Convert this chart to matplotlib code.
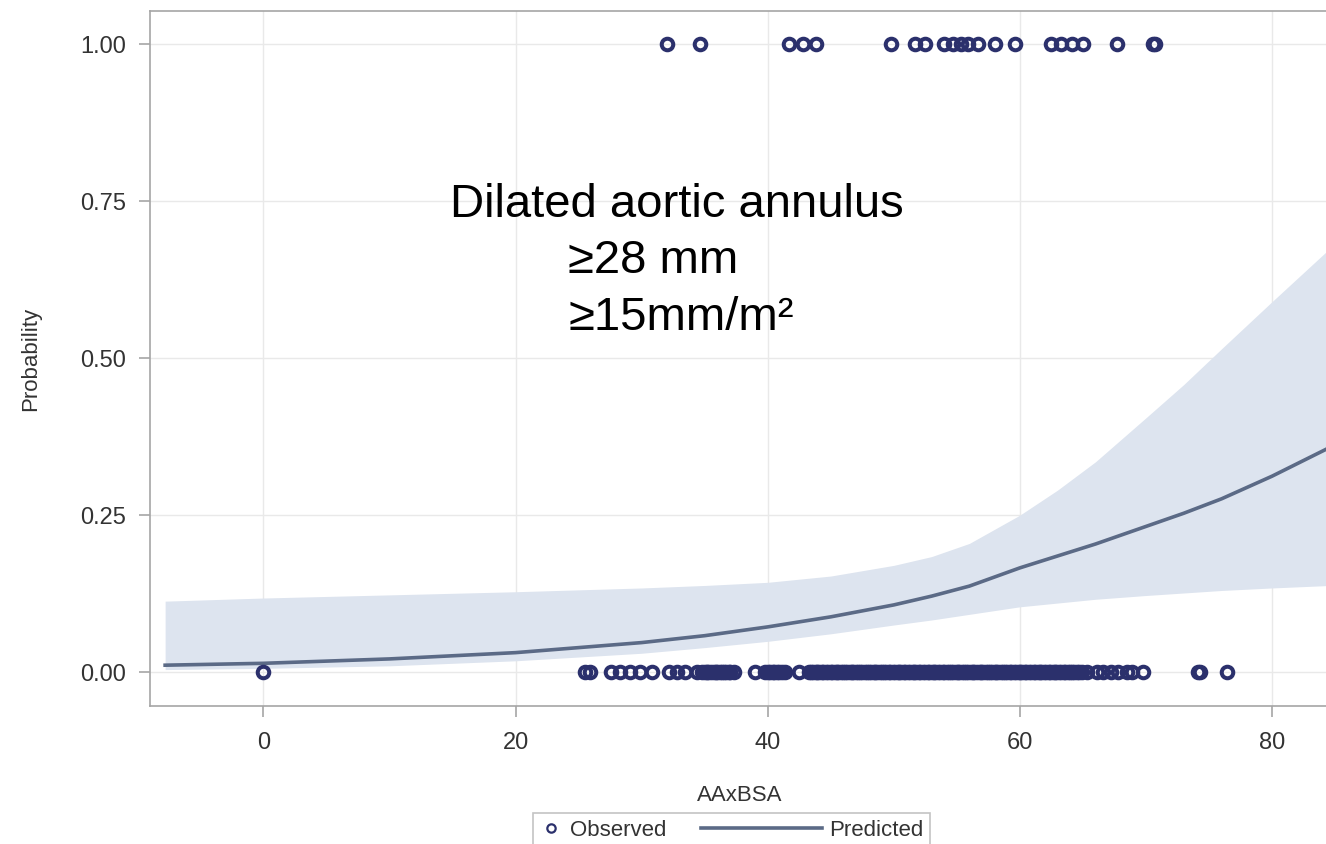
import matplotlib
matplotlib.use("Agg")
import matplotlib.pyplot as plt
from matplotlib.lines import Line2D
from matplotlib.legend_handler import HandlerLine2D
import numpy as np

plt.rcParams["font.family"] = ["Liberation Sans", "DejaVu Sans"]

# Datos: curva predicha y banda de confianza
curve_x = [-7.8, 0, 10, 20, 30, 35, 40, 45, 50, 53, 56, 60, 63, 66, 70, 73, 76, 80, 84.6]
pred = [0.011, 0.014, 0.021, 0.031, 0.047, 0.058, 0.072, 0.088, 0.107, 0.121,
        0.137, 0.166, 0.185, 0.204, 0.232, 0.253, 0.276, 0.312, 0.358]
upper = [0.113, 0.118, 0.123, 0.128, 0.134, 0.138, 0.143, 0.153, 0.170, 0.184,
         0.205, 0.250, 0.290, 0.335, 0.405, 0.458, 0.515, 0.590, 0.675]
lower = [0.004, 0.006, 0.010, 0.018, 0.030, 0.039, 0.049, 0.061, 0.075, 0.083,
         0.092, 0.104, 0.110, 0.116, 0.122, 0.126, 0.130, 0.134, 0.138]

# Observados con evento (1)
obs_one = [32.0, 34.6, 41.7, 42.8, 43.8, 49.8, 51.7, 52.5, 54.0, 54.7, 55.3,
           55.9, 56.7, 58.0, 59.6, 62.5, 63.3, 64.1, 65.0, 67.7, 70.6, 70.7]

# Observados sin evento (0)
obs_zero = [0.0, 25.5, 25.9, 27.6, 28.3, 29.1, 29.9, 30.8, 32.2, 32.8, 33.4,
            34.4, 34.8, 35.0, 35.2, 35.3, 35.5, 35.7, 35.9, 36.0, 36.2, 36.4,
            36.5, 36.7, 36.9, 37.0, 37.3,
            39.0, 39.8, 40.0, 40.2, 40.4, 40.5, 40.7, 40.9, 41.1, 41.4, 42.5,
            43.3, 43.4, 43.6, 43.8, 43.9, 44.1, 44.3, 44.4, 44.6, 44.8, 45.0,
            45.1, 45.3, 45.5, 45.6, 45.8, 46.0, 46.1, 46.3, 46.5, 46.7, 46.8,
            47.0, 47.2, 47.3, 47.5, 47.7, 47.9, 48.0, 48.2, 48.4, 48.5, 48.7,
            48.9, 49.1, 49.2, 49.4, 49.6, 49.7, 49.9, 50.1, 50.3, 50.4, 50.6,
            50.8, 50.9, 51.1, 51.3, 51.5, 51.6, 51.8, 52.0, 52.1, 52.3, 52.5,
            52.7, 52.8, 53.0, 53.2, 53.3, 53.5, 53.7, 53.9, 54.0, 54.2, 54.4,
            54.5, 54.7, 54.9, 55.1, 55.2, 55.4, 55.6, 55.7, 55.9, 56.1, 56.3,
            56.4, 56.6, 56.8, 56.9, 57.1, 57.3, 57.5, 57.6, 57.8, 58.0, 58.1,
            58.3, 58.5, 58.7, 58.8, 59.0, 59.2, 59.3, 59.5, 59.7, 59.9, 60.0,
            60.2, 60.4, 60.5, 60.7, 60.9, 61.1, 61.2, 61.4, 61.6, 61.7, 61.9,
            62.1, 62.3, 62.4, 62.6, 62.8, 62.9, 63.1, 63.3, 63.5, 63.6, 63.8,
            64.0, 64.1, 64.3, 64.5, 64.7, 64.9, 65.3, 66.1, 66.6, 67.2, 67.8,
            68.5, 68.9, 69.8, 74.1, 74.3, 76.4]

xticks = [0, 20, 40, 60, 80]
yticks = [0.0, 0.25, 0.50, 0.75, 1.00]

navy = "#2b306c"
linecol = "#5b6a86"
txtcol = "#333333"

fig = plt.figure(figsize=(13.26, 8.44), dpi=100)
ax = fig.add_axes([150 / 1326, 138 / 844, 1 - 150 / 1326 + 0.003, 695 / 844])

ax.fill_between(curve_x, lower, upper, color="#dde4ef", linewidth=0, zorder=1)
ax.plot(curve_x, pred, color=linecol, linewidth=2.6, zorder=2)
ax.plot(obs_one, [1.0] * len(obs_one), linestyle="", marker="o", markersize=8.3,
        markerfacecolor="none", markeredgecolor=navy, markeredgewidth=2.9, zorder=3)
ax.plot(obs_zero, [0.0] * len(obs_zero), linestyle="", marker="o", markersize=8.3,
        markerfacecolor="none", markeredgecolor=navy, markeredgewidth=2.9, zorder=3)

ax.set_xlim(-9.0, 84.6)
ax.set_ylim(-0.054, 1.053)
ax.set_xticks(xticks)
ax.set_yticks(yticks)
ax.set_yticklabels(["%.2f" % v for v in yticks])
ax.grid(True, color="#e9e9e9", linewidth=1)
ax.set_axisbelow(True)
for s in ["left", "bottom", "top"]:
    ax.spines[s].set_color("#a5a5a5")
    ax.spines[s].set_linewidth(1.2)
ax.spines["right"].set_visible(False)
ax.tick_params(axis="both", colors="#a5a5a5", labelcolor=txtcol, length=8,
               width=1.2, labelsize=17)
ax.tick_params(axis="x", pad=11)
ax.tick_params(axis="y", pad=9)

ax.set_xlabel("AAxBSA", fontsize=16, color=txtcol, labelpad=22)
ax.set_ylabel("Probability", fontsize=16, color=txtcol, labelpad=28)

# Anotacion
fig.text(677 / 1326, 1 - 205 / 844, "Dilated aortic annulus", fontsize=34,
         ha="center", va="center")
fig.text(568 / 1326, 1 - 261 / 844, "≥28 mm", fontsize=34, ha="left", va="center")
fig.text(568 / 1326, 1 - 318 / 844, "≥15mm/m²", fontsize=34, ha="left", va="center")


# linea de leyenda alargada hacia la izquierda
class LongLine(HandlerLine2D):
    def __init__(self, ext, **kw):
        super().__init__(**kw)
        self.ext = ext

    def create_artists(self, legend, orig_handle, xdescent, ydescent, width,
                       height, fontsize, trans):
        arts = super().create_artists(legend, orig_handle, xdescent, ydescent,
                                      width, height, fontsize, trans)
        for a in arts:
            xd = np.array(a.get_xdata(), dtype=float)
            if len(xd) >= 2:
                xd[0] -= self.ext
                a.set_xdata(xd)
        return arts


h_obs = Line2D([], [], linestyle="", marker="o", markersize=6, markerfacecolor="none",
               markeredgecolor=navy, markeredgewidth=1.6)
h_pred = Line2D([], [], color=linecol, linewidth=2.6)
leg = fig.legend([h_obs, h_pred], ["Observed", "Predicted"], loc="upper left",
                 bbox_to_anchor=(533 / 1326, 1 - 813 / 844), borderaxespad=0,
                 ncol=2, fontsize=16, frameon=True, fancybox=False,
                 handlelength=1.0, handletextpad=0.35, columnspacing=6.0,
                 borderpad=0.3, handler_map={h_pred: LongLine(71)})
leg.get_frame().set_edgecolor("#b5b5b5")
leg.get_frame().set_linewidth(1.2)
for t in leg.get_texts():
    t.set_color(txtcol)

plt.savefig("out.png", dpi=100)
